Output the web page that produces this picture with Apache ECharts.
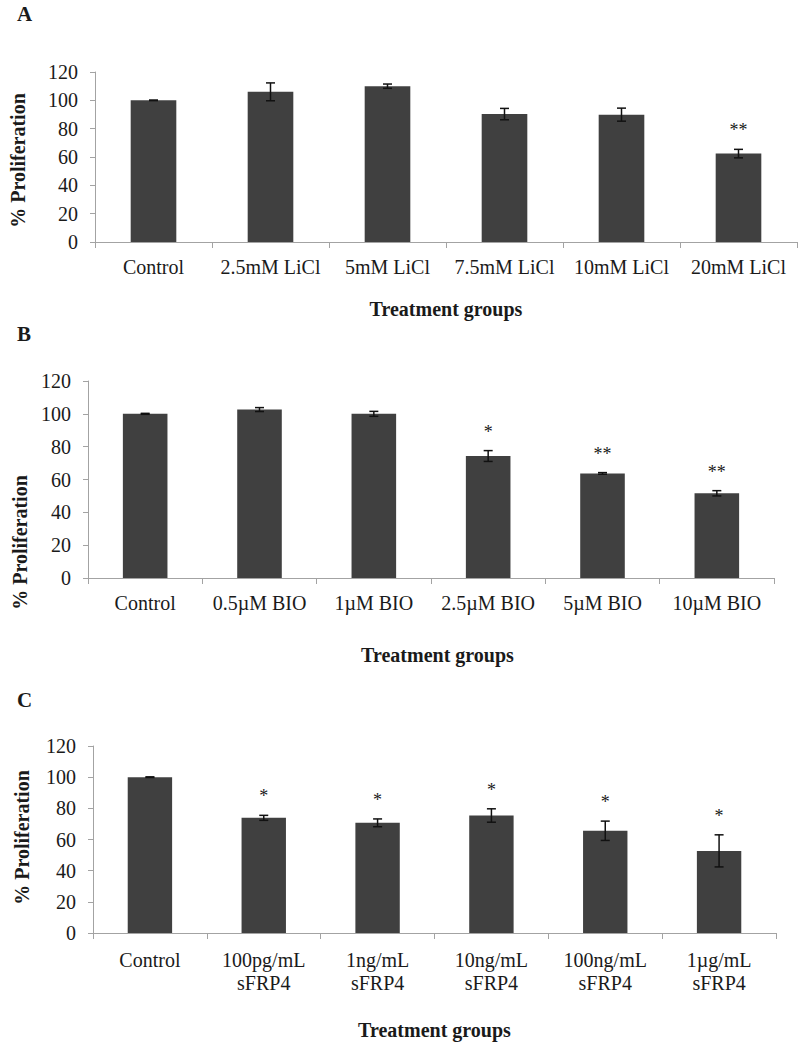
<!DOCTYPE html>
<html>
<head>
<meta charset="utf-8">
<script src="https://cdn.jsdelivr.net/npm/echarts@6/dist/echarts.min.js"></script>
<style>
html,body{margin:0;padding:0;background:#ffffff;}
#chart{width:800px;height:1043px;}
</style>
</head>
<body>
<div id="chart"></div>
<script>
// ---- data ----
const panelLetters = ['A', 'B', 'C'];
const yTitle = '% Proliferation';
const xTitle = 'Treatment groups';
const yMin = 0, yMax = 120, yStep = 20;

const catsA = ['Control', '2.5mM LiCl', '5mM LiCl', '7.5mM LiCl', '10mM LiCl', '20mM LiCl'];
const valsA = [100, 106, 110, 90.3, 89.9, 62.4];
const errA  = [0.2, 6.3, 1.5, 4.0, 4.6, 3.0];
const starsA = ['', '', '', '', '', '**'];

const catsB = ['Control', '0.5µM BIO', '1µM BIO', '2.5µM BIO', '5µM BIO', '10µM BIO'];
const valsB = [100, 102.6, 100, 74.3, 63.7, 51.6];
const errB  = [0.3, 1.2, 1.5, 3.3, 0.5, 1.6];
const starsB = ['', '', '', '*', '**', '**'];

const catsC = ['Control', '100pg/mL\nsFRP4', '1ng/mL\nsFRP4', '10ng/mL\nsFRP4', '100ng/mL\nsFRP4', '1µg/mL\nsFRP4'];
const valsC = [100, 73.9, 70.7, 75.4, 65.6, 52.7];
const errC  = [0.2, 1.6, 2.5, 4.3, 6.2, 10.3];
const starsC = ['', '*', '*', '*', '*', '*'];

// ---- layout / style ----
const FONT = '"Liberation Serif", "Times New Roman", serif';
const TEXT = '#1a1a1a';
const AXIS = '#a3a3a3';
const BAR = '#404040';

const panels = [
  {cats: catsA, vals: valsA, err: errA, stars: starsA,
   grid: {left: 91, right: 3, top: 72, height: 170},
   nameGap: 57, xNamePad: [0, 0, 0, 0], yNameGap: 67, yNamePad: [0, 7, 0, 0], lh: 20, letterY: 3},
  {cats: catsB, vals: valsB, err: errB, stars: starsB,
   grid: {left: 88, right: 26, top: 381, height: 197},
   nameGap: 67, xNamePad: [0, 0, 0, 13], yNameGap: 57, yNamePad: [0, 126, 0, 0], lh: 20, letterY: 323},
  {cats: catsC, vals: valsC, err: errC, stars: starsC,
   grid: {left: 93, right: 24, top: 746, height: 187},
   nameGap: 87, xNamePad: [0, 0, 0, 0], yNameGap: 61, yNamePad: [0, 0, 0, 4], lh: 23, letterY: 689}
];

const grids = [], xAxes = [], yAxes = [], series = [], graphics = [];

panels.forEach((p, k) => {
  grids.push(Object.assign({containLabel: false}, p.grid));
  xAxes.push({
    type: 'category', gridIndex: k, data: p.cats, boundaryGap: true,
    axisLine: {show: true, lineStyle: {color: AXIS, width: 1}},
    axisTick: {show: true, length: 6, lineStyle: {color: AXIS}},
    axisLabel: {interval: 0, margin: 15, color: TEXT, fontFamily: FONT, fontSize: 20, lineHeight: p.lh},
    name: xTitle, nameLocation: 'middle', nameGap: p.nameGap,
    nameTextStyle: {fontFamily: FONT, fontSize: 20, fontWeight: 'bold', color: TEXT, padding: p.xNamePad}
  });
  yAxes.push({
    type: 'value', gridIndex: k, min: yMin, max: yMax, interval: yStep,
    splitLine: {show: false},
    axisLine: {show: true, lineStyle: {color: AXIS, width: 1}},
    axisTick: {show: true, length: 5, lineStyle: {color: AXIS}},
    axisLabel: {margin: 17, color: TEXT, fontFamily: FONT, fontSize: 20},
    name: yTitle, nameLocation: 'middle', nameRotate: 90, nameGap: p.yNameGap,
    nameTextStyle: {fontFamily: FONT, fontSize: 20, fontWeight: 'bold', color: TEXT, padding: p.yNamePad}
  });
  series.push({
    type: 'bar', xAxisIndex: k, yAxisIndex: k, data: p.vals,
    barWidth: '39%', itemStyle: {color: BAR}, silent: true, animation: false
  });
  const stars = p.stars;
  series.push({
    type: 'custom', xAxisIndex: k, yAxisIndex: k, z: 5, animation: false, silent: true,
    data: p.vals.map((v, i) => [i, v, p.err[i]]),
    renderItem: function (params, api) {
      const i = api.value(0), v = api.value(1), e = api.value(2);
      const top = api.coord([i, v + e]);
      const bot = api.coord([i, v - e]);
      const hw = 4.5;
      const ls = {stroke: '#111111', lineWidth: 1.5};
      const children = [
        {type: 'line', shape: {x1: top[0], y1: top[1], x2: bot[0], y2: bot[1]}, style: ls},
        {type: 'line', shape: {x1: top[0] - hw, y1: top[1], x2: top[0] + hw, y2: top[1]}, style: ls},
        {type: 'line', shape: {x1: bot[0] - hw, y1: bot[1], x2: bot[0] + hw, y2: bot[1]}, style: ls}
      ];
      const s = stars[params.dataIndex];
      if (s) {
        children.push({type: 'text', x: top[0], y: top[1] - 10,
          style: {text: s, fill: TEXT, font: '18px ' + FONT, align: 'center', verticalAlign: 'bottom'}});
      }
      return {type: 'group', children: children};
    }
  });
  graphics.push({
    type: 'text', left: 17, top: p.letterY,
    style: {text: panelLetters[k], fill: TEXT, font: 'bold 21px ' + FONT}
  });
});

const chart = echarts.init(document.getElementById('chart'), null, {renderer: 'svg'});
chart.setOption({
  backgroundColor: '#ffffff',
  animation: false,
  textStyle: {fontFamily: FONT},
  grid: grids, xAxis: xAxes, yAxis: yAxes, series: series, graphic: graphics
});
</script>
</body>
</html>
